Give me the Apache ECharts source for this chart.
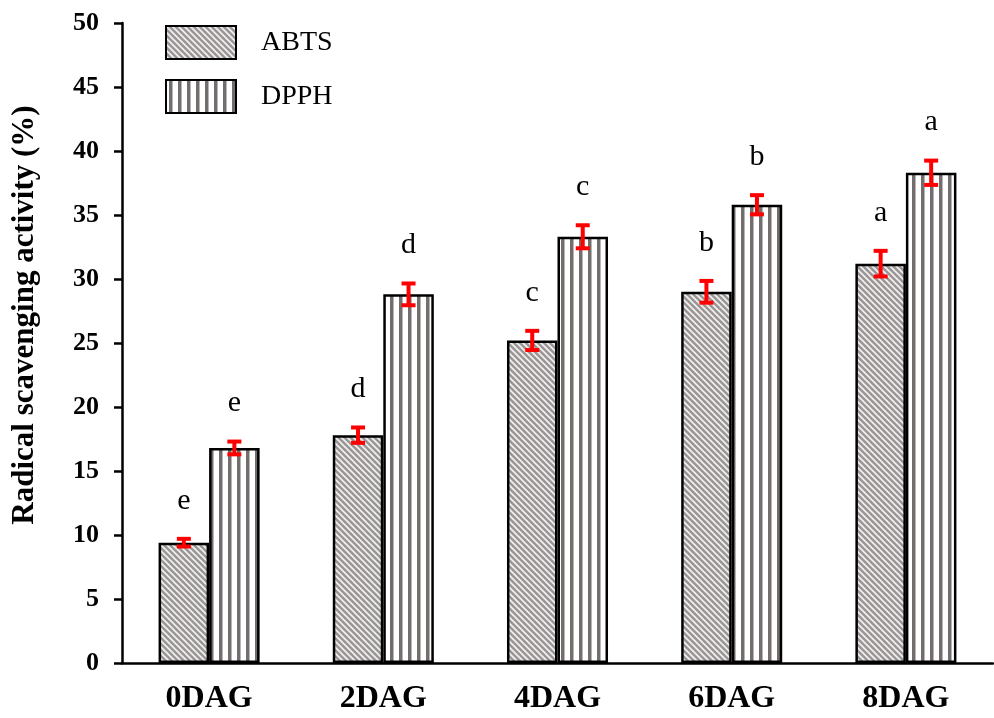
<!DOCTYPE html>
<html lang="en">
<head>
<meta charset="UTF-8">
<script src="https://cdn.jsdelivr.net/npm/echarts@6/dist/echarts.min.js"></script>
<title>Radical scavenging activity</title>
<style>
  html, body { margin: 0; padding: 0; background: #fff; }
</style>
</head>
<body>
<div id="main" style="width: 994px;height:718px;"></div>
<script type="text/javascript">
// data
var categories = ['0DAG', '2DAG', '4DAG', '6DAG', '8DAG'];
var abts = [9.4, 17.8, 25.2, 29.0, 31.2];
var abtsErr = [0.3, 0.6, 0.75, 0.85, 1.0];
var abtsLetters = ['e', 'd', 'c', 'b', 'a'];
var dpph = [16.8, 28.8, 33.3, 35.8, 38.3];
var dpphErr = [0.5, 0.85, 0.9, 0.75, 0.95];
var dpphLetters = ['e', 'd', 'c', 'b', 'a'];
var yTicks = [0, 50, 5];

var serif = 'Liberation Serif, Times New Roman, serif';
var catGap = 0.42;

// hatched fill for ABTS
function diagPattern() {
    var c = document.createElement('canvas');
    c.width = 6; c.height = 6;
    var g = c.getContext('2d');
    g.fillStyle = '#9b9796';
    g.fillRect(0, 0, 6, 6);
    g.strokeStyle = '#f4f2f2';
    g.lineWidth = 1.6;
    [-6, 0, 6].forEach(function (d) {
        g.beginPath();
        g.moveTo(d - 1, -1);
        g.lineTo(d + 7, 7);
        g.stroke();
    });
    return c;
}
// vertical stripes for DPPH
function stripePattern() {
    var c = document.createElement('canvas');
    c.width = 9; c.height = 4;
    var g = c.getContext('2d');
    g.fillStyle = '#ffffff';
    g.fillRect(0, 0, 9, 4);
    g.fillStyle = '#736e6d';
    g.fillRect(3, 0, 3.5, 4);
    return c;
}

function errorSeries(name, vals, errs, letters, side) {
    return {
        type: 'custom',
        name: name + '_err',
        z: 10,
        data: vals.map(function (v, i) { return [i, v, errs[i]]; }),
        renderItem: function (params, api) {
            var i = api.value(0), v = api.value(1), e = api.value(2);
            var band = api.size([1, 0])[0];
            var bw = band * (1 - catGap) / 2;
            var x = api.coord([i, v])[0] + side * bw / 2;
            var yTop = api.coord([i, v + e])[1];
            var yBot = api.coord([i, v - e])[1];
            var st = { stroke: '#ff0000', lineWidth: 4 };
            return {
                type: 'group',
                children: [
                    { type: 'line', shape: { x1: x, y1: yTop, x2: x, y2: yBot }, style: st },
                    { type: 'line', shape: { x1: x - 7, y1: yTop, x2: x + 7, y2: yTop }, style: st },
                    { type: 'line', shape: { x1: x - 7, y1: yBot, x2: x + 7, y2: yBot }, style: st },
                    {
                        type: 'text', x: x, y: yTop - 38,
                        style: {
                            text: letters[params.dataIndex], fill: '#000',
                            font: '30px ' + serif, align: 'center', verticalAlign: 'middle'
                        }
                    }
                ]
            };
        }
    };
}

var myChart = echarts.init(document.getElementById('main'));
var option = {
    animation: false,
    grid: { left: 122, right: 1, top: 23, bottom: 55, outerBoundsMode: 'none', containLabel: false },
    legend: {
        data: ['ABTS', 'DPPH'],
        orient: 'vertical',
        left: 160, top: 20,
        itemWidth: 70, itemHeight: 33, itemGap: 19,
        icon: 'rect',
        itemStyle: { borderColor: '#000', borderWidth: 2 },
        textStyle: { fontFamily: serif, fontSize: 28, color: '#000', padding: [0, 0, 0, 20] }
    },
    xAxis: {
        type: 'category',
        data: categories,
        axisLine: { lineStyle: { color: '#000', width: 2.5 } },
        axisTick: { show: false },
        axisLabel: { color: '#000', fontFamily: serif, fontWeight: 'bold', fontSize: 32, margin: 20 }
    },
    yAxis: {
        type: 'value',
        min: yTicks[0], max: yTicks[1], interval: yTicks[2],
        name: 'Radical scavenging activity (%)',
        nameLocation: 'middle',
        nameGap: 82,
        nameTextStyle: { color: '#000', fontFamily: serif, fontWeight: 'bold', fontSize: 31, padding: [0, 0, 0, 56] },
        splitLine: { show: false },
        axisLine: { show: true, lineStyle: { color: '#000', width: 2.5 } },
        axisTick: { show: true, length: 8, lineStyle: { color: '#000', width: 2.5 } },
        axisLabel: { color: '#000', fontFamily: serif, fontWeight: 'bold', fontSize: 26, margin: 23 }
    },
    series: [
        {
            name: 'ABTS', type: 'bar', data: abts,
            barGap: 0, barCategoryGap: (catGap * 100) + '%',
            itemStyle: { color: { image: diagPattern(), repeat: 'repeat' }, borderColor: '#000', borderWidth: 2.5 }
        },
        {
            name: 'DPPH', type: 'bar', data: dpph,
            barGap: 0, barCategoryGap: (catGap * 100) + '%',
            itemStyle: { color: { image: stripePattern(), repeat: 'repeat' }, borderColor: '#000', borderWidth: 2.5 }
        },
        errorSeries('ABTS', abts, abtsErr, abtsLetters, -1),
        errorSeries('DPPH', dpph, dpphErr, dpphLetters, 1)
    ]
};
myChart.setOption(option);
</script>
</body>
</html>
